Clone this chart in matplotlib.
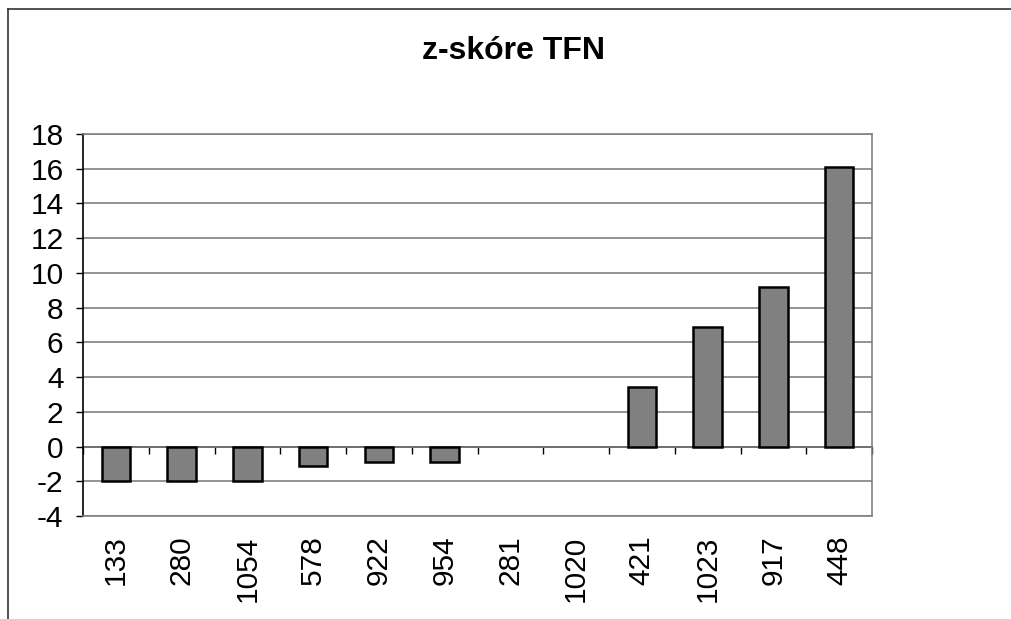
'''
Bar chart of z-scores for TFN per sample id
'''
import matplotlib
matplotlib.use('Agg')
import matplotlib.pyplot as plt
from matplotlib.lines import Line2D

# Data
samples = ['133', '280', '1054', '578', '922', '954', '281', '1020', '421', '1023', '917', '448']
z_scores = [-2.0, -2.0, -2.0, -1.1, -0.88, -0.88, 0.0, 0.0, 3.45, 6.9, 9.2, 16.1]
y_ticks = [-4, -2, 0, 2, 4, 6, 8, 10, 12, 14, 16, 18]


def main():
    plt.rcParams['font.family'] = ['Liberation Sans', 'DejaVu Sans']

    W, H = 1011, 619
    fig = plt.figure(figsize=(W / 100, H / 100), dpi=100)
    fig.patch.set_facecolor('white')

    # Plot area in pixels
    left, top, right, bottom = 83, 134, 872, 516
    ax = fig.add_axes([left / W, 1 - bottom / H, (right - left) / W, (bottom - top) / H])

    x = list(range(len(samples)))
    # zero bars show no outline in the original
    widths = [0 if v == 0 else 1.8 for v in z_scores]
    ax.bar(x, z_scores, width=0.43, color='#808080', edgecolor='black', linewidth=widths, zorder=3)

    ax.set_xlim(-0.5, len(samples) - 0.5)
    ax.set_ylim(-4, 18)
    ax.set_yticks(y_ticks)
    ax.set_yticklabels([str(t) for t in y_ticks], fontsize=21.5)
    ax.tick_params(axis='y', direction='out', length=5, width=1, pad=9, color='black')

    # Category labels below the plot area
    ax.set_xticks(x)
    ax.set_xticklabels(samples, rotation=90, fontsize=21.5, va='top')
    ax.tick_params(axis='x', length=0, pad=14)

    # Horizontal gridlines
    ax.yaxis.grid(True, color='#808080', linewidth=1.2, zorder=0)
    ax.set_axisbelow(True)

    for side in ['top', 'right', 'bottom']:
        ax.spines[side].set_color('#808080')
        ax.spines[side].set_linewidth(1.2)
    ax.spines['left'].set_color('black')
    ax.spines['left'].set_linewidth(1.2)

    # Category axis crossing at zero with tick marks between categories
    sec = ax.secondary_xaxis(4 / 22)
    sec.set_xticks([i + 0.5 for i in range(-1, len(samples))])
    sec.set_xticklabels([])
    sec.tick_params(direction='out', length=5, width=1, color='black')
    sec.spines['bottom'].set_color('black')
    sec.spines['bottom'].set_linewidth(1.2)

    # Title
    fig.text(513 / W, 1 - 51 / H, 'z-skóre TFN', ha='center', va='center',
             fontsize=23, fontweight='bold')

    # Outer chart frame (cut at right and bottom)
    fig.add_artist(Line2D([8 / W, 1], [1 - 9 / H, 1 - 9 / H], color='#333333', linewidth=1.2))
    fig.add_artist(Line2D([8 / W, 8 / W], [0, 1 - 9 / H], color='#333333', linewidth=1.2))

    plt.savefig('out.png', dpi=100)


if __name__ == '__main__':
    main()
